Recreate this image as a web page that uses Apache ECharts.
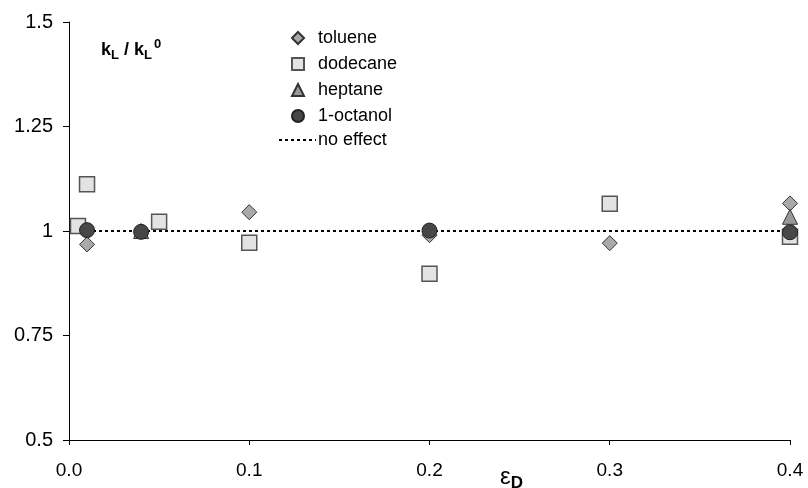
<!DOCTYPE html>
<html>
<head>
<meta charset="utf-8" />
<title>kL / kL0 vs epsilon D</title>
<script src="https://cdn.jsdelivr.net/npm/echarts@6/dist/echarts.min.js"></script>
<style>
  html, body { margin: 0; padding: 0; background: #fff; }
  #main { width: 808px; height: 488px; }
</style>
</head>
<body>
<div id="main"></div>
<script type="text/javascript">
// data: [epsilon_D, kL/kL0]
var toluene = [[0.01, 0.968], [0.1, 1.045], [0.2, 0.99], [0.3, 0.971], [0.4, 1.066]];
var dodecane = [[0.005, 1.012], [0.01, 1.112], [0.05, 1.022], [0.1, 0.972], [0.2, 0.898], [0.3, 1.065], [0.4, 0.986]];
var heptane = [[0.04, 1.0], [0.4, 1.034]];
var octanol = [[0.01, 1.002], [0.04, 0.998], [0.2, 1.001], [0.4, 0.997]];
var noEffect = [[0, 1], [0.4, 1]];

var xTicks = ['0.0', '0.1', '0.2', '0.3', '0.4'];
var yTicks = { 0.5: '0.5', 0.75: '0.75', 1: '1', 1.25: '1.25', 1.5: '1.5' };

var FONT = 'Liberation Sans, Arial, sans-serif';
var myChart = echarts.init(document.getElementById('main'));

var option = {
  animation: false,
  backgroundColor: '#fff',
  textStyle: { fontFamily: FONT },
  grid: { left: 69, right: 18, top: 22, bottom: 48, outerBoundsMode: 'none', containLabel: false },
  title: [{
    // y axis title
    left: 101, top: 38, padding: 0,
    text: '{b|k}{s|L}{b| / k}{s|L}{p|0}',
    textStyle: {
      rich: {
        b: { fontFamily: FONT, fontWeight: 'bold', fontSize: 18, color: '#000' },
        s: { fontFamily: FONT, fontWeight: 'bold', fontSize: 13, color: '#000', padding: [11, 0, 0, 0] },
        p: { fontFamily: FONT, fontWeight: 'bold', fontSize: 13, color: '#000', padding: [0, 0, 11, 2] }
      }
    }
  }, {
    // x axis title
    left: 500, top: 462, padding: 0,
    text: '{e|ε}{d|D}',
    textStyle: {
      rich: {
        e: { fontFamily: FONT, fontWeight: 'normal', fontSize: 24, color: '#000' },
        d: { fontFamily: FONT, fontWeight: 'bold', fontSize: 17, color: '#000', padding: [13, 0, 0, 0] }
      }
    }
  }],
  legend: [{
    orient: 'vertical', left: 291, top: 29, padding: 0,
    itemWidth: 12, itemHeight: 12, itemGap: 8,
    data: ['toluene', 'dodecane', 'heptane', '1-octanol'],
    textStyle: { fontFamily: FONT, fontSize: 18, color: '#000', padding: [0, 0, 0, 9] }
  }, {
    orient: 'vertical', left: 278, top: 131, padding: 0,
    itemWidth: 37, itemHeight: 14,
    data: ['no effect'],
    itemStyle: { opacity: 0 },
    lineStyle: { inherit: true },
    textStyle: { fontFamily: FONT, fontSize: 18, color: '#000', padding: [0, 0, 0, -3] }
  }],
  xAxis: {
    type: 'value', min: 0, max: 0.4, interval: 0.1,
    axisLine: { lineStyle: { color: '#000', width: 1 } },
    axisTick: { show: true, inside: false, length: 5, lineStyle: { color: '#000' } },
    axisLabel: {
      fontFamily: FONT, fontSize: 19, color: '#000', margin: 21,
      formatter: function (v) { return xTicks[Math.round(v * 10)]; }
    },
    splitLine: { show: false }
  },
  yAxis: {
    type: 'value', min: 0.5, max: 1.5, interval: 0.25,
    axisLine: { show: true, lineStyle: { color: '#000', width: 1 } },
    axisTick: { show: true, inside: false, length: 6, lineStyle: { color: '#000' } },
    axisLabel: {
      fontFamily: FONT, fontSize: 20, color: '#000', margin: 16,
      formatter: function (v) { return yTicks[v]; }
    },
    splitLine: { show: false }
  },
  series: [
    {
      name: 'no effect', type: 'line', data: noEffect, symbol: 'none', z: 1,
      lineStyle: { color: '#000', width: 2, type: [3, 3] },
      itemStyle: { color: '#000' }
    },
    {
      name: 'toluene', type: 'scatter', data: toluene, symbol: 'diamond', symbolSize: 15, z: 2,
      itemStyle: { color: '#a9a9a9', borderColor: '#333', borderWidth: 1, opacity: 1 }
    },
    {
      name: 'dodecane', type: 'scatter', data: dodecane, symbol: 'rect', symbolSize: 15, z: 3,
      itemStyle: { color: '#e3e3e3', borderColor: '#555', borderWidth: 1.5, opacity: 1 }
    },
    {
      name: 'heptane', type: 'scatter', data: heptane, symbol: 'triangle', symbolSize: 15, z: 4,
      itemStyle: { color: '#999', borderColor: '#333', borderWidth: 1, opacity: 1 }
    },
    {
      name: '1-octanol', type: 'scatter', data: octanol, symbol: 'circle', symbolSize: 15, z: 5,
      itemStyle: { color: '#474747', borderColor: '#222', borderWidth: 1, opacity: 1 }
    }
  ]
};

myChart.setOption(option);
</script>
</body>
</html>
